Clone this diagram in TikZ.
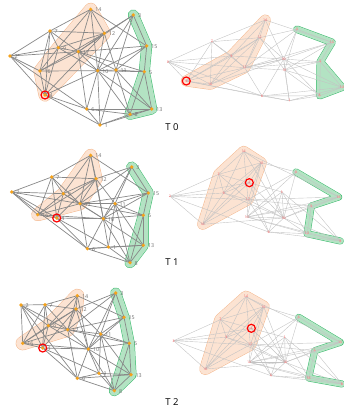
\documentclass[tikz,border=0pt]{standalone}
\usepackage{fontspec}
\setmainfont{Open Sans}
\pgfdeclarelayer{hull}
\pgfdeclarelayer{edges}
\pgfsetlayers{hull,edges,main}

\definecolor{dotorange}{HTML}{F5A21B}
\definecolor{labgrey}{HTML}{6E6E6E}
\definecolor{edgegrey}{HTML}{888888}
\definecolor{edgelight}{HTML}{C4C4C4}
\definecolor{obord}{HTML}{F4B990}
\definecolor{ofill}{HTML}{FCE3D2}
\definecolor{gbord}{HTML}{3DBB6E}
\definecolor{gfill}{HTML}{B3E3C3}
\definecolor{pinkdot}{HTML}{F6B4B4}
\definecolor{pinklab}{HTML}{EE7272}

\tikzset{
  ldot/.style={circle, fill=dotorange, inner sep=0pt, minimum size=3.6pt},
  rdot/.style={circle, fill=pinkdot, inner sep=0pt, minimum size=1.6pt},
  llab/.style={font=\fontsize{5.3}{5.3}\selectfont, text=labgrey, anchor=west, inner sep=0pt, xshift=2.5pt, yshift=-0.5pt},
  rlab/.style={font=\fontsize{3.6}{3.6}\selectfont, text=pinklab, inner sep=0pt},
  ledge/.style={draw=edgegrey, line width=0.7pt},
  redge/.style={draw=edgelight, line width=0.4pt},
  focus/.style={circle, draw=red, line width=1.2pt, minimum size=8pt, inner sep=0pt},
  tlabel/.style={font=\fontsize{9.5}{9.5}\selectfont, text=black, inner sep=0pt},
}

% graph edges, shared by every panel
\def\edgelist{14/7, 14/12, 14/9, 14/10, 14/15, 14/17, 3/12, 3/15, 3/11, 3/17, 3/10,
  7/12, 7/2, 7/9, 7/16, 7/4, 7/17, 2/9, 2/17, 2/16, 2/4, 2/6, 12/9, 12/17, 12/10,
  12/16, 12/4, 12/11, 9/17, 9/16, 9/4, 9/10, 17/15, 17/5, 17/11, 17/10, 17/6, 17/16,
  16/10, 16/4, 10/11, 10/5, 10/6, 10/1, 10/8, 10/13, 11/5, 11/15, 11/13, 11/1, 11/8,
  15/5, 15/10, 4/6, 4/1, 4/10, 6/8, 6/13, 6/1, 8/1, 8/13, 5/13, 5/8, 1/13}

% #1 prefix, #2 dot style, #3 list n/x/y
\newcommand\placenodes[3]{%
  \foreach \n/\x/\y in {#3} {\node[#2] (#1-\n) at (\x,\y) {};}}
% #1 prefix, #2 edge style
\newcommand\drawedges[2]{%
  \begin{pgfonlayer}{edges}
    \foreach \a/\b in \edgelist {\draw[#2] (#1-\a.center) -- (#1-\b.center);}
  \end{pgfonlayer}}
% padded group outline: #1 border, #2 fill, #3 outer width, #4 inner width, #5 band path, #6 filled path
\newcommand\grouphull[6]{%
  \begin{pgfonlayer}{hull}
    \draw[draw=#1, line width=#3, line join=round, line cap=round] #5;
    \draw[draw=#2, line width=#4, line join=round, line cap=round] #5;
    \fill[#2] #6;
  \end{pgfonlayer}}

\begin{document}
\begin{tikzpicture}[x=1pt, y=-1pt]
\useasboundingbox (0,0) rectangle (344,411);

% ---------------- T 0 ----------------
\placenodes{L0}{ldot}{1/100/125, 2/10/56, 3/133.3/15, 4/45/95, 5/144.3/71.7, 6/86.7/109,
  7/50/31, 8/130/114.3, 9/58.3/47.7, 10/97.7/70.7, 11/116/70, 12/104.3/33.3,
  13/151.7/109, 14/90.7/9.3, 15/146.7/46, 16/40/71, 17/78.3/51.7}
\placenodes{R0}{rdot}{1/289.3/100.7, 2/168/61.7, 3/297/29.3, 4/186.3/81, 5/320.3/61.7,
  6/262/96, 7/212/41.7, 8/319.7/95.7, 9/231.3/56, 10/283.7/59, 11/284.7/70,
  12/259.7/37.7, 13/342/87.3, 14/265.3/20, 15/332/42.3, 16/210.3/84.3, 17/244.7/67.7}
\drawedges{L0}{ledge}
\drawedges{R0}{redge}
\grouphull{obord}{ofill}{13pt}{12pt}
  {(L0-14.center) -- (L0-12.center) -- (L0-4.center) -- (L0-16.center) -- (L0-9.center) -- cycle}
  {(L0-14.center) -- (L0-12.center) -- (L0-4.center) -- (L0-16.center) -- (L0-9.center) -- cycle}
\grouphull{gbord}{gfill}{11pt}{10pt}
  {(L0-3.center) -- (L0-15.center) -- (L0-5.center) -- (L0-13.center) -- (L0-8.center) -- (L0-5.center)}
  {(L0-5.center) -- (L0-13.center) -- (L0-8.center) -- cycle}
\grouphull{obord}{ofill}{11pt}{10pt}
  {(R0-14.center) -- (R0-12.center) -- (R0-17.center) -- (R0-16.center) -- (R0-4.center) -- (R0-9.center) -- cycle}
  {(R0-14.center) -- (R0-12.center) -- (R0-17.center) -- (R0-16.center) -- (R0-4.center) -- (R0-9.center) -- cycle}
\grouphull{gbord}{gfill}{7.5pt}{6.5pt}
  {(R0-3.center) -- (R0-15.center) -- (R0-5.center) -- (R0-8.center) -- (R0-13.center) -- (R0-5.center)}
  {(R0-5.center) -- (R0-8.center) -- (R0-13.center) -- cycle}
\foreach \n in {1,...,17} {\node[llab] (L0-\n-t) at (L0-\n.east) {\n};}
\foreach \n in {1,...,17} {\node[rlab] (R0-\n-t) at (R0-\n) {\n};}
\node[focus] (L0-ring) at (L0-4) {};
\node[focus] (R0-ring) at (R0-4) {};
\node[tlabel] (cap0) at (172,127) {T 0};

% ---------------- T 1 ----------------
\placenodes{L1}{ldot}{1/108.3/247, 2/11.7/192, 3/131.7/167, 4/56.7/218, 5/143.3/215.3,
  6/87.3/248.7, 7/51.7/177, 8/130/262.7, 9/63.3/193.7, 10/103.3/218.7, 11/115/203.7,
  12/96/178.7, 13/143.3/245.3, 14/90.7/155.3, 15/148.3/193, 16/37.7/214.7, 17/80/203.7}
\placenodes{R1}{rdot}{1/282/192, 2/170/196.3, 3/296/172, 4/249.3/182.7, 5/311.3/206,
  6/268.7/232, 7/218.7/174.3, 8/340.3/241, 9/223.7/193, 10/283.7/218, 11/247/217,
  12/261.3/162.7, 13/307/233.7, 14/243.7/151.3, 15/338.7/197, 16/202.7/224.3, 17/248/199.7}
\drawedges{L1}{ledge}
\drawedges{R1}{redge}
\grouphull{obord}{ofill}{13pt}{12pt}
  {(L1-14.center) -- (L1-12.center) -- (L1-17.center) -- (L1-16.center) -- (L1-9.center) -- cycle}
  {(L1-14.center) -- (L1-12.center) -- (L1-17.center) -- (L1-16.center) -- (L1-9.center) -- cycle}
\grouphull{gbord}{gfill}{11pt}{10pt}
  {(L1-3.center) -- (L1-15.center) -- (L1-5.center) -- (L1-13.center) -- (L1-8.center) -- (L1-5.center)}
  {(L1-5.center) -- (L1-13.center) -- (L1-8.center) -- cycle}
\grouphull{obord}{ofill}{11pt}{10pt}
  {(R1-14.center) -- (R1-12.center) -- (R1-17.center) -- (R1-16.center) -- (R1-7.center) -- cycle}
  {(R1-14.center) -- (R1-12.center) -- (R1-17.center) -- (R1-16.center) -- (R1-7.center) -- cycle}
\grouphull{gbord}{gfill}{7pt}{6pt}
  {(R1-3.center) -- (R1-15.center) -- (R1-5.center) -- (R1-13.center) -- (R1-8.center)}
  {}
\foreach \n in {1,...,17} {\node[llab] (L1-\n-t) at (L1-\n.east) {\n};}
\foreach \n in {1,...,17} {\node[rlab] (R1-\n-t) at (R1-\n) {\n};}
\node[focus] (L1-ring) at (L1-4) {};
\node[focus] (R1-ring) at (R1-4) {};
\node[tlabel] (cap1) at (172,262) {T 1};

% ---------------- T 2 ----------------
\placenodes{L2}{ldot}{1/99/373.3, 2/21/305, 3/115.7/293, 4/42.7/348, 5/129.3/343.3,
  6/77.3/378.3, 7/45/304.7, 8/114.3/390.7, 9/48.3/325.7, 10/88.3/349, 11/100.7/334,
  12/76/309, 13/131/374.7, 14/77.3/295.7, 15/124/317.3, 16/22.7/343.3, 17/67.7/329.7}
\placenodes{R2}{rdot}{1/284.7/337.3, 2/173.7/340.7, 3/298.7/317.3, 4/251.3/328.3,
  5/314.7/350.7, 6/271/375.7, 7/220.3/319.7, 8/342/384, 9/226.3/337.3, 10/285.3/362.3,
  11/249.3/362.3, 12/263.7/306.7, 13/308.7/378, 14/246/296.7, 15/340.3/342.3,
  16/205.3/369, 17/250.3/344.7}
\drawedges{L2}{ledge}
\drawedges{R2}{redge}
\grouphull{obord}{ofill}{14pt}{13pt}
  {(L2-14.center) -- (L2-12.center) -- (L2-17.center) -- (L2-16.center) -- (L2-9.center) -- cycle}
  {(L2-14.center) -- (L2-12.center) -- (L2-17.center) -- (L2-16.center) -- (L2-9.center) -- cycle}
\grouphull{gbord}{gfill}{11pt}{10pt}
  {(L2-3.center) -- (L2-15.center) -- (L2-5.center) -- (L2-13.center) -- (L2-8.center) -- (L2-5.center)}
  {(L2-5.center) -- (L2-13.center) -- (L2-8.center) -- cycle}
\grouphull{obord}{ofill}{12pt}{11pt}
  {(R2-14.center) -- (R2-12.center) -- (R2-17.center) -- (R2-16.center) -- (R2-7.center) -- cycle}
  {(R2-14.center) -- (R2-12.center) -- (R2-17.center) -- (R2-16.center) -- (R2-7.center) -- cycle}
\grouphull{gbord}{gfill}{7pt}{6pt}
  {(R2-3.center) -- (R2-15.center) -- (R2-5.center) -- (R2-13.center) -- (R2-8.center)}
  {}
\foreach \n in {1,...,17} {\node[llab] (L2-\n-t) at (L2-\n.east) {\n};}
\foreach \n in {1,...,17} {\node[rlab] (R2-\n-t) at (R2-\n) {\n};}
\node[focus] (L2-ring) at (L2-4) {};
\node[focus] (R2-ring) at (R2-4) {};
\node[tlabel] (cap2) at (172,402) {T 2};
\end{tikzpicture}
\end{document}
